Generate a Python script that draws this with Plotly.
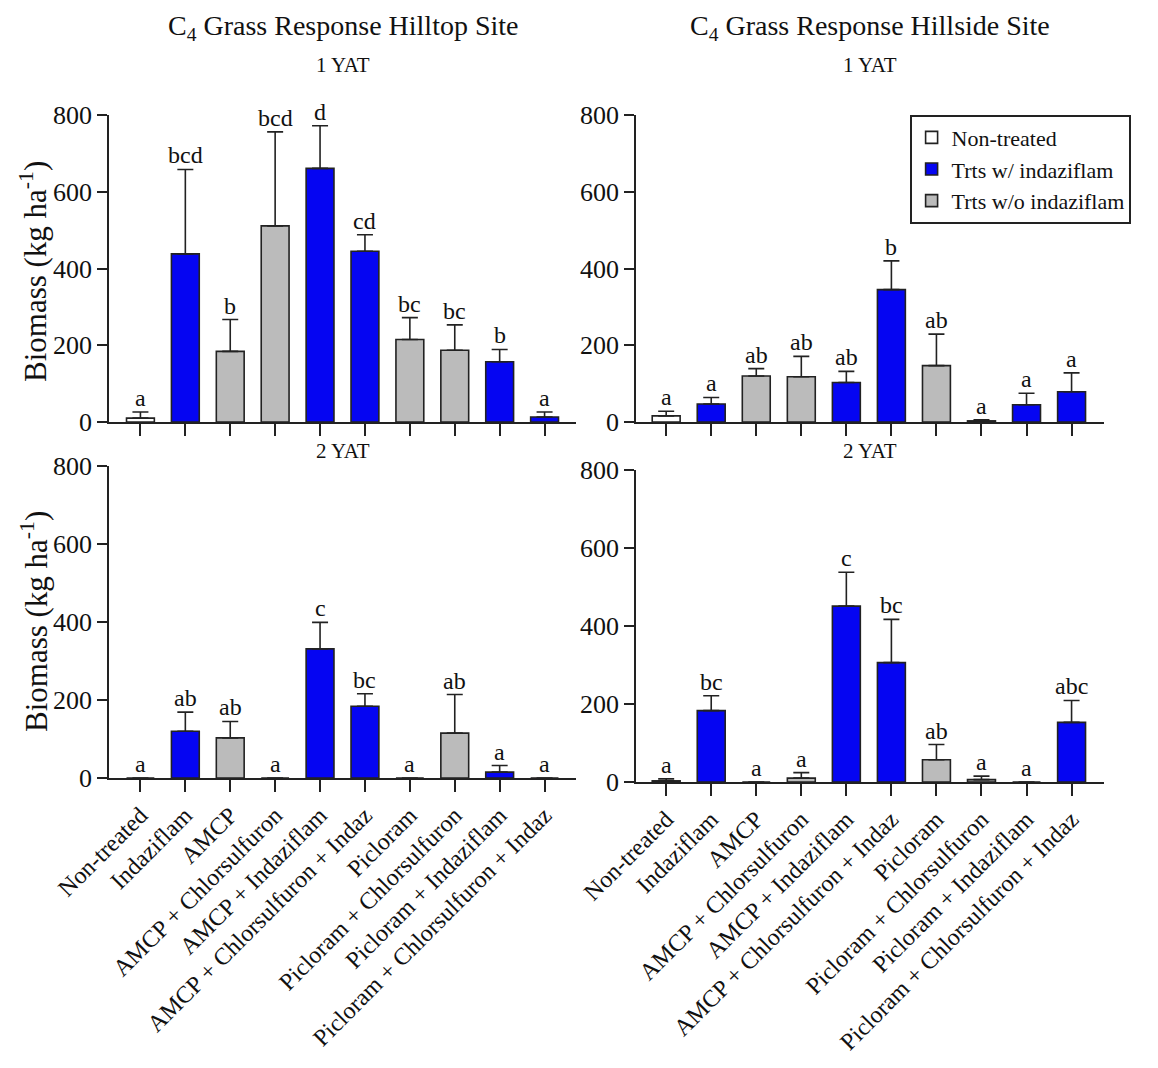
import plotly.graph_objects as go

categories = ["Non-treated", "Indaziflam", "AMCP", "AMCP + Chlorsulfuron",
              "AMCP + Indaziflam", "AMCP + Chlorsulfuron + Indaz", "Picloram",
              "Picloram + Chlorsulfuron", "Picloram + Indaziflam",
              "Picloram + Chlorsulfuron + Indaz"]
# group: 0 = Non-treated, 1 = with indaziflam, 2 = without indaziflam
group_of = [0, 1, 2, 2, 1, 1, 2, 2, 1, 1]
group_names = ["Non-treated", "Trts w/ indaziflam", "Trts w/o indaziflam"]
group_colors = ["#FFFFFF", "#0505F2", "#BBBBBB"]

# Hilltop 1 YAT
hilltop_1_mean = [10, 438, 184, 511, 661, 445, 215, 187, 157, 13]
hilltop_1_se = [16, 220, 83, 245, 111, 43, 57, 66, 32, 13]
hilltop_1_letters = ["a", "bcd", "b", "bcd", "d", "cd", "bc", "bc", "b", "a"]
# Hillside 1 YAT
hillside_1_mean = [16, 47, 120, 118, 103, 345, 147, 3, 45, 79]
hillside_1_se = [12, 17, 19, 53, 29, 75, 82, 3, 30, 49]
hillside_1_letters = ["a", "a", "ab", "ab", "ab", "b", "ab", "a", "a", "a"]
# Hilltop 2 YAT
hilltop_2_mean = [0, 120, 103, 0, 331, 184, 0, 115, 15, 0]
hilltop_2_se = [0, 49, 42, 0, 68, 32, 0, 99, 17, 0]
hilltop_2_letters = ["a", "ab", "ab", "a", "c", "bc", "a", "ab", "a", "a"]
# Hillside 2 YAT
hillside_2_mean = [3, 183, 0, 10, 451, 306, 57, 6, 0, 153]
hillside_2_se = [5, 38, 0, 14, 87, 111, 39, 9, 0, 56]
hillside_2_letters = ["a", "bc", "a", "a", "c", "bc", "ab", "a", "a", "abc"]

y_ticks = [0, 200, 400, 600, 800]

FONT = "Liberation Serif"
W, H = 1158, 1068

def px_x(p):
    return p / W

def px_y(p):
    return 1 - p / H

fig = go.Figure()

panels = [
    ("x", "y", hilltop_1_mean, hilltop_1_se, hilltop_1_letters, False),
    ("x2", "y2", hillside_1_mean, hillside_1_se, hillside_1_letters, True),
    ("x3", "y3", hilltop_2_mean, hilltop_2_se, hilltop_2_letters, False),
    ("x4", "y4", hillside_2_mean, hillside_2_se, hillside_2_letters, False),
]

annotations = []
for xa, ya, means, ses, letters, showleg in panels:
    for g in range(3):
        idx = [i for i in range(len(categories)) if group_of[i] == g]
        fig.add_trace(go.Bar(
            x=[categories[i] for i in idx],
            y=[means[i] for i in idx],
            error_y=dict(type="data", symmetric=False,
                         array=[ses[i] if ses[i] > 0 else None for i in idx],
                         arrayminus=[0] * len(idx),
                         color="#222222", thickness=1.6, width=8),
            marker=dict(color=group_colors[g], line=dict(color="#222222", width=1.6)),
            width=0.62, name=group_names[g], legendgroup=group_names[g],
            showlegend=showleg, xaxis=xa, yaxis=ya,
        ))
    for i, cat in enumerate(categories):
        annotations.append(dict(
            x=cat, y=means[i] + ses[i], xref=xa, yref=ya, text=letters[i],
            showarrow=False, yanchor="bottom", xanchor="center", yshift=-1,
            font=dict(family=FONT, size=24, color="#111111")))

common_x = dict(type="category", categoryorder="array", categoryarray=categories,
                showline=True, linecolor="#222222", linewidth=1.6, ticks="outside",
                ticklen=12, tickwidth=1.6, tickcolor="#222222", showgrid=False,
                zeroline=False, tickangle=-45, automargin=False,
                tickfont=dict(family=FONT, size=24, color="#111111"))
common_y = dict(range=[0, 800], tickvals=y_ticks, showline=True, linecolor="#222222",
                linewidth=1.6, ticks="outside", ticklen=10, tickwidth=1.6,
                tickcolor="#222222", showgrid=False, zeroline=False, automargin=False,
                tickfont=dict(family=FONT, size=26, color="#111111"))

left_dom = [px_x(109), px_x(576)]
right_dom = [px_x(636), px_x(1104)]
left_range = [-0.7, 9.7]
right_range = [-0.67, 9.72]

fig.update_layout(
    xaxis=dict(common_x, domain=left_dom, range=left_range, anchor="y", showticklabels=False),
    yaxis=dict(common_y, domain=[px_y(422), px_y(115)], anchor="x"),
    xaxis2=dict(common_x, domain=right_dom, range=right_range, anchor="y2", showticklabels=False),
    yaxis2=dict(common_y, domain=[px_y(422), px_y(115)], anchor="x2"),
    xaxis3=dict(common_x, domain=left_dom, range=left_range, anchor="y3", showticklabels=True),
    yaxis3=dict(common_y, domain=[px_y(778), px_y(466)], anchor="x3"),
    xaxis4=dict(common_x, domain=right_dom, range=right_range, anchor="y4", showticklabels=True),
    yaxis4=dict(common_y, domain=[px_y(782), px_y(470)], anchor="x4"),
)

text_items = [
    ("C<sub>4</sub> Grass Response Hilltop Site", 343, 27, 28, 0),
    ("C<sub>4</sub> Grass Response Hillside Site", 870, 27, 28, 0),
    ("1 YAT", 343, 65, 21, 0),
    ("1 YAT", 870, 65, 21, 0),
    ("2 YAT", 343, 451, 21, 0),
    ("2 YAT", 870, 451, 21, 0),
    ("Biomass (kg ha<sup>-1</sup>)", 34, 272, 31, -90),
    ("Biomass (kg ha<sup>-1</sup>)", 34, 622, 31, -90),
]
for txt, x, y, size, ang in text_items:
    annotations.append(dict(text=txt, x=px_x(x), y=px_y(y), xref="paper", yref="paper",
                            showarrow=False, xanchor="center", yanchor="middle",
                            textangle=ang, font=dict(family=FONT, size=size, color="#111111")))

fig.update_layout(
    template="none",
    width=W, height=H, autosize=False,
    margin=dict(l=0, r=0, t=0, b=0, autoexpand=False),
    paper_bgcolor="white", plot_bgcolor="white",
    barmode="overlay",
    annotations=annotations,
    showlegend=True,
    legend=dict(x=px_x(910), y=px_y(115), xanchor="left", yanchor="top",
                bgcolor="white", bordercolor="#222222", borderwidth=1.6,
                font=dict(family=FONT, size=22, color="#111111"),
                traceorder="normal", tracegroupgap=0, itemwidth=30),
    font=dict(family=FONT),
)

fig.write_html("out.html")
